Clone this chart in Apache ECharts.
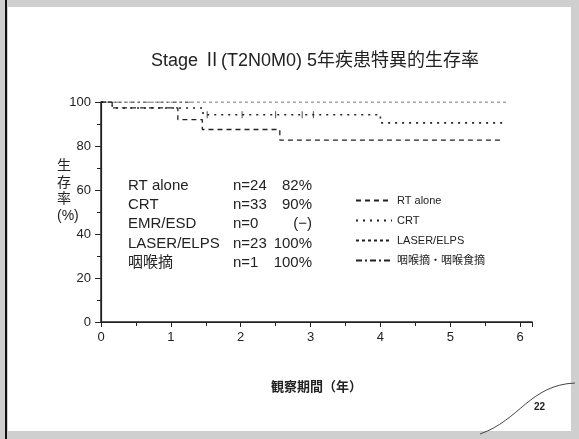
<!DOCTYPE html>
<html>
<head>
<meta charset="utf-8">
<script src="https://cdn.jsdelivr.net/npm/echarts@6/dist/echarts.min.js"></script>
<style>
  html, body { margin: 0; padding: 0; background: #fff; }
  #chart { width: 579px; height: 439px; }
</style>
</head>
<body>
<div id="chart"></div>
<script>
// 生存曲線 (Kaplan-Meier) - [年, 生存率%]
const rtAlone = [[0, 100], [0.16, 97.3], [1.1, 92], [1.45, 87.5], [2.56, 82.7], [5.75, 82.7]];
const crt = [[0, 100], [0.16, 97.3], [1.46, 94.2], [4.0, 90.5], [5.75, 90.5]];
const laser = [[0, 100], [5.8, 100]];
const larynx = [[0, 100], [1.3, 100]];
// 打ち切りマーク
const crtCensor = [[1.52, 94.2], [2.02, 94.2], [2.5, 94.2], [2.88, 94.2], [3.04, 94.2]];

const seriesNames = ['RT alone', 'CRT', 'LASER/ELPS', '咽喉摘・咽喉食摘'];

// 表の行
const rowNames = ['RT alone', 'CRT', 'EMR/ESD', 'LASER/ELPS', '咽喉摘'];
const rowN = ['n=24', 'n=33', 'n=0', 'n=23', 'n=1'];
const rowPct = ['82%', '90%', '(−)', '100%', '100%'];

const title = 'Stage Ⅱ(T2N0M0) 5年疾患特異的生存率';
const xName = '観察期間（年）';
const yName = '生\n存\n率\n(%)';

const font = '"Liberation Sans", "Noto Sans CJK JP", sans-serif';
const ink = '#222';

const chart = echarts.init(document.getElementById('chart'));

const tableText = [];
rowNames.forEach((name, i) => {
  const y = 187 + i * 19.4;
  tableText.push({ type: 'text', left: 128, top: y - 9, style: { text: name, font: '15px ' + font, fill: ink } });
  tableText.push({ type: 'text', left: 233, top: y - 9, style: { text: rowN[i], font: '15px ' + font, fill: ink } });
  tableText.push({ type: 'text', right: 579 - 312, top: y - 9, style: { text: rowPct[i], font: '15px ' + font, fill: ink, align: 'right' } });
});

const lineSeries = (name, data, type, width) => ({
  name,
  type: 'line',
  step: 'end',
  data,
  symbol: 'none',
  silent: true,
  itemStyle: { color: ink },
  lineStyle: { color: ink, width, type }
});

const option = {
  backgroundColor: '#fff',
  animation: false,
  title: {
    text: title,
    left: 146,
    top: 47,
    textStyle: { fontFamily: font, fontSize: 18, fontWeight: 'normal', color: ink }
  },
  grid: { left: 101, right: 47, top: 102, bottom: 117 },
  legend: {
    orient: 'vertical',
    left: 350,
    top: 190,
    itemWidth: 36,
    itemHeight: 8,
    itemGap: 9,
    data: seriesNames,
    itemStyle: { opacity: 0 },
    textStyle: { fontFamily: font, fontSize: 11, color: ink }
  },
  xAxis: [{
    type: 'value',
    min: 0,
    max: 6.17,
    interval: 1,
    name: xName,
    nameLocation: 'middle',
    nameGap: 59,
    nameTextStyle: { fontFamily: font, fontSize: 13, fontWeight: 'bold', color: ink },
    axisLine: { lineStyle: { color: ink, width: 1.2 } },
    axisTick: { show: true, length: 5, lineStyle: { color: ink } },
    minorTick: { show: true, splitNumber: 2, length: 4, lineStyle: { color: ink } },
    axisLabel: {
      fontFamily: font, fontSize: 13, color: ink, margin: 9, showMaxLabel: false,
      formatter: v => (Number.isInteger(v) ? String(v) : '')
    },
    splitLine: { show: false }
  }, {
    type: 'value',
    position: 'top',
    min: 0,
    max: 6.17,
    axisLine: { lineStyle: { color: ink, width: 1.5 } },
    axisTick: { show: false },
    axisLabel: { show: false },
    splitLine: { show: false }
  }],
  yAxis: [{
    type: 'value',
    min: 0,
    max: 100,
    interval: 20,
    axisLine: { show: true, lineStyle: { color: ink, width: 1.2 } },
    axisTick: { show: true, length: 6, lineStyle: { color: ink } },
    minorTick: { show: true, splitNumber: 2, length: 4, lineStyle: { color: ink } },
    axisLabel: { fontFamily: font, fontSize: 13, color: ink, margin: 10 },
    splitLine: { show: false }
  }, {
    type: 'value',
    position: 'right',
    min: 0,
    max: 100,
    axisLine: { show: true, lineStyle: { color: ink, width: 1.5 } },
    axisTick: { show: false },
    axisLabel: { show: false },
    splitLine: { show: false }
  }],
  series: [
    lineSeries('RT alone', rtAlone, [5, 4], 1.3),
    lineSeries('CRT', crt, [2, 5], 1.6),
    lineSeries('LASER/ELPS', laser, [3, 3], 0.8),
    lineSeries('咽喉摘・咽喉食摘', larynx, [6, 3, 2, 3], 0.8),
    {
      type: 'scatter',
      data: crtCensor,
      symbol: 'rect',
      symbolSize: [1, 7],
      silent: true,
      itemStyle: { color: ink }
    }
  ],
  graphic: [
    // スライドの枠
    { type: 'rect', shape: { x: 4, y: 3, width: 571, height: 432 }, style: { fill: 'none', stroke: '#cfcfcf', lineWidth: 8 }, z: 0 },
    { type: 'line', shape: { x1: 6, y1: 0, x2: 6, y2: 439 }, style: { stroke: '#111', lineWidth: 2 } },
    { type: 'bezierCurve', shape: { x1: 480, y1: 434, cpx1: 520, cpy1: 420, cpx2: 530, cpy2: 385, x2: 575, y2: 383 }, style: { stroke: '#444', lineWidth: 1, fill: 'none' } },
    { type: 'text', left: 534, top: 402, style: { text: '22', font: 'bold 10px ' + font, fill: ink } },
    { type: 'text', left: 57, top: 158, style: { text: yName, font: '14px ' + font, fill: ink, align: 'center', lineHeight: 16.5 } },
    ...tableText
  ]
};

chart.setOption(option);
</script>
</body>
</html>
